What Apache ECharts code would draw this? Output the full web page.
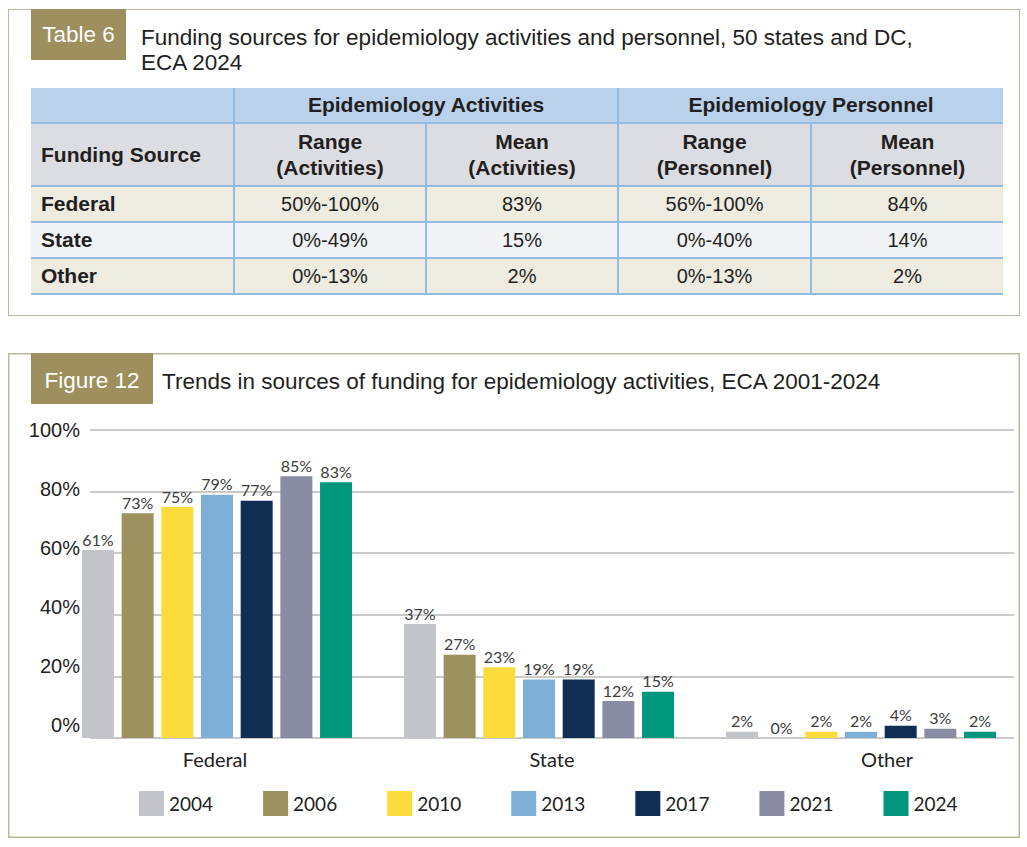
<!DOCTYPE html>
<html>
<head>
<meta charset="utf-8">
<script src="https://cdn.jsdelivr.net/npm/echarts@6/dist/echarts.min.js"></script>
<style>
body { margin: 0; background: #fff; font-family: "Liberation Sans", Arial, sans-serif; color: #231f20; }
#chart { position: absolute; left: 0; top: 0; width: 1027px; height: 847px; }
.panel { position: absolute; left: 8px; top: 9px; width: 1012px; height: 307px; border: 1.5px solid #bcb797; box-sizing: border-box; }
.tag { position: absolute; left: 31px; top: 9px; width: 95px; height: 51px; background: #9d8f5e; color: #fff; font-size: 22.5px; line-height: 51px; text-align: center; }
.ttl { position: absolute; left: 141px; top: 25px; font-size: 22.5px; line-height: 25px; color: #231f20; }
table { position: absolute; left: 31px; top: 88px; width: 972px; border-collapse: collapse; table-layout: fixed; font-size: 20px; color: #231f20; }
td, th { padding: 0; text-align: center; border-bottom: 2px solid #95bbe0; }
td + td, th + th { border-left: 2px solid #95bbe0; }
tr.h1 th { background: #b9d1ea; height: 34px; font-size: 21px; }
tr.h2 th { background: #dcdde2; height: 61px; font-size: 21px; line-height: 26px; }
tr.h2 th.first { text-align: left; padding-left: 10px; }
tr.odd td { background: #eeebe1; }
tr.even td { background: #f1f2f5; }
tr.r td { height: 34px; }
td.lab { text-align: left; padding-left: 10px; font-weight: bold; font-size: 21px; }
</style>
</head>
<body>
<div id="chart"></div>
<div class="panel"></div>
<div class="tag">Table 6</div>
<div class="ttl">Funding sources for epidemiology activities and personnel, 50 states and DC,<br>ECA 2024</div>
<table id="tbl"></table>
<script>
// table 6 contents
const tableGroups = ['Epidemiology Activities', 'Epidemiology Personnel'];
const tableHeads = ['Funding Source', 'Range<br>(Activities)', 'Mean<br>(Activities)', 'Range<br>(Personnel)', 'Mean<br>(Personnel)'];
const tableSources = ['Federal', 'State', 'Other'];
const rangeActivities = ['50%-100%', '0%-49%', '0%-13%'];
const meanActivities = ['83%', '15%', '2%'];
const rangePersonnel = ['56%-100%', '0%-40%', '0%-13%'];
const meanPersonnel = ['84%', '14%', '2%'];

// figure 12 data
const categories = ['Federal', 'State', 'Other'];
const years = ['2004', '2006', '2010', '2013', '2017', '2021', '2024'];
const values2004 = [61, 37, 2];
const values2006 = [73, 27, 0];
const values2010 = [75, 23, 2];
const values2013 = [79, 19, 2];
const values2017 = [77, 19, 4];
const values2021 = [85, 12, 3];
const values2024 = [83, 15, 2];
const yTicks = [0, 20, 40, 60, 80, 100];

const seriesValues = [values2004, values2006, values2010, values2013, values2017, values2021, values2024];
const yearColors = ['#c1c4c8', '#9e9160', '#fcdc3d', '#7eafd7', '#102d52', '#8a8ca3', '#00977e'];

// build table
let html = '<colgroup><col style="width:203px"><col style="width:192px"><col style="width:192px"><col style="width:193px"><col style="width:192px"></colgroup>';
html += '<tr class="h1"><th></th><th colspan="2">' + tableGroups[0] + '</th><th colspan="2">' + tableGroups[1] + '</th></tr>';
html += '<tr class="h2">' + tableHeads.map(function (h, i) {
    return '<th' + (i == 0 ? ' class="first"' : '') + '>' + h + '</th>';
}).join('') + '</tr>';
tableSources.forEach(function (s, i) {
    html += '<tr class="r ' + (i % 2 == 0 ? 'odd' : 'even') + '"><td class="lab">' + s + '</td><td>' + rangeActivities[i] +
        '</td><td>' + meanActivities[i] + '</td><td>' + rangePersonnel[i] + '</td><td>' + meanPersonnel[i] + '</td></tr>';
});
document.getElementById('tbl').innerHTML = html;

// chart
const labelFont = 'Lato, "DejaVu Sans", sans-serif';
const catShift = {
    f: { padding: [0, 4, 0, 0] },
    s: { padding: [0, 0, 0, 26] },
    o: { padding: [0, 0, 0, 52] }
};
Object.keys(catShift).forEach(function (k) {
    Object.assign(catShift[k], { fontFamily: labelFont, fontSize: 20, color: '#222' });
});

const yMin = yTicks[0];
const yMax = yTicks[yTicks.length - 1];

const chart = echarts.init(document.getElementById('chart'), null, { renderer: 'svg' });
chart.setOption({
    animation: false,
    graphic: [
        { type: 'rect', shape: { x: 8.75, y: 353.75, width: 1010.5, height: 483.5 }, style: { fill: 'none', stroke: '#bcb797', lineWidth: 1.5 } },
        { type: 'rect', shape: { x: 31, y: 353, width: 122, height: 51 }, style: { fill: '#9d8f5e' } },
        { type: 'text', x: 92, y: 380, style: { text: 'Figure 12', fill: '#fff', font: '22.5px "Liberation Sans", Arial, sans-serif', textAlign: 'center', textVerticalAlign: 'middle' } },
        { type: 'text', x: 162, y: 381, style: { text: 'Trends in sources of funding for epidemiology activities, ECA 2001-2024', fill: '#231f20', font: '22.5px "Liberation Sans", Arial, sans-serif', textVerticalAlign: 'middle' } }
    ],
    legend: {
        data: years,
        left: 139,
        top: 791,
        padding: 0,
        icon: 'rect',
        itemWidth: 25,
        itemHeight: 25,
        itemGap: 50,
        textStyle: { fontFamily: labelFont, fontSize: 19, color: '#222' }
    },
    grid: [
        // bars
        { left: 56, top: 430, width: 966, height: 308 },
        // gridlines
        { left: 90, top: 430, width: 924, height: 308 },
        // tick labels (set a little tighter than the gridlines, as in the original)
        { left: 90, top: 430, width: 924, height: 295 }
    ],
    xAxis: [
        {
            type: 'category',
            gridIndex: 0,
            data: categories,
            axisLine: { show: false },
            axisTick: { show: false },
            axisLabel: {
                margin: 11,
                formatter: function (v, i) {
                    return '{' + ['f', 's', 'o'][i] + '|' + v + '}';
                },
                rich: catShift
            }
        },
        { type: 'category', gridIndex: 1, data: [''], show: false },
        { type: 'category', gridIndex: 2, data: [''], show: false }
    ],
    yAxis: [
        { type: 'value', gridIndex: 0, min: yMin, max: yMax, interval: 20, show: false },
        {
            type: 'value',
            gridIndex: 1,
            min: yMin,
            max: yMax,
            interval: 20,
            axisLine: { show: false },
            axisTick: { show: false },
            axisLabel: { show: false },
            splitLine: { lineStyle: { color: '#c9c9c9', width: 2 } }
        },
        {
            type: 'value',
            gridIndex: 2,
            min: yMin,
            max: yMax,
            interval: 20,
            axisLine: { show: false },
            axisTick: { show: false },
            splitLine: { show: false },
            axisLabel: {
                margin: 10,
                formatter: '{value}%',
                fontFamily: '"Liberation Sans", Arial, sans-serif',
                fontSize: 20,
                color: '#222'
            }
        }
    ],
    series: years.map(function (y, i) {
        return {
            name: y,
            type: 'bar',
            xAxisIndex: 0,
            yAxisIndex: 0,
            data: seriesValues[i],
            barWidth: 32,
            barGap: '24%',
            itemStyle: { color: yearColors[i] },
            label: {
                show: true,
                position: 'top',
                distance: 3,
                formatter: '{c}%',
                fontFamily: labelFont,
                fontSize: 16,
                color: '#3c3c3c'
            }
        };
    })
});
</script>
</body>
</html>
